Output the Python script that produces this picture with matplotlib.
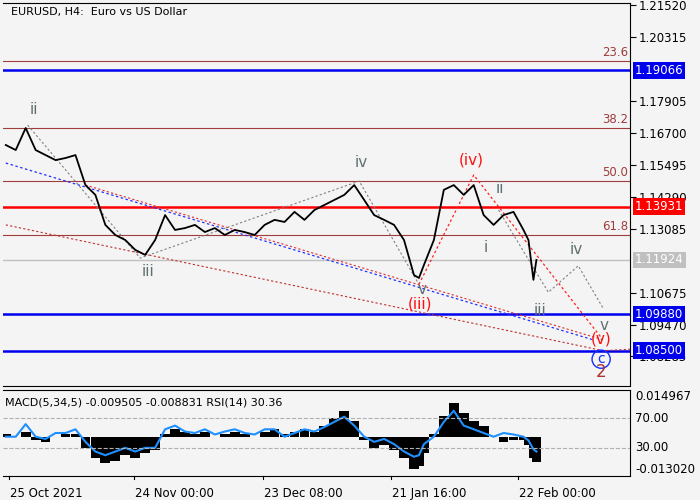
import matplotlib
matplotlib.use("Agg")
import matplotlib.pyplot as plt
import numpy as np

# bar positions (H4 bars) and approximate closes
bars = [0, 10, 20, 30, 40, 50, 60, 70, 80, 90, 100, 110, 120, 130, 140, 150, 160, 170, 180, 190,
        200, 210, 220, 230, 240, 250, 260, 270, 280, 290, 300, 310, 320, 330, 340, 350, 360, 370, 380, 390,
        400, 410, 415, 420, 430, 440, 450, 460, 470, 480, 490, 500, 510, 520, 525, 530, 533]
close = [1.1625, 1.1606, 1.1689, 1.1606, 1.1587, 1.1568, 1.1576, 1.1587, 1.1474, 1.1437,
         1.1324, 1.1286, 1.1267, 1.1230, 1.1211, 1.1267, 1.1361, 1.1305, 1.1312, 1.1324,
         1.1297, 1.1312, 1.1286, 1.1305, 1.1297, 1.1286, 1.1324, 1.1343, 1.1335, 1.1373,
         1.1343, 1.1380, 1.1399, 1.1418, 1.1437, 1.1474, 1.1418, 1.1361, 1.1343, 1.1324,
         1.1267, 1.1135, 1.1124, 1.1173, 1.1267, 1.1456, 1.1474, 1.1437, 1.1474, 1.1361,
         1.1324, 1.1361, 1.1373, 1.1305, 1.1267, 1.1117, 1.1192]
rsi = [45, 45, 62, 45, 42, 50, 50, 55, 38, 25, 20, 25, 30, 25, 30, 30, 55, 60, 52, 50,
       55, 48, 52, 55, 50, 48, 55, 55, 45, 50, 55, 52, 58, 65, 72, 60, 45, 38, 42, 35,
       25, 18, 20, 35, 45, 65, 80, 60, 55, 50, 45, 50, 48, 45, 40, 28, 25]
macd = [0.001, 0.0, 0.002, -0.001, -0.002, 0.0, 0.001, 0.001, -0.004, -0.008,
        -0.010, -0.009, -0.007, -0.008, -0.006, -0.005, 0.001, 0.003, 0.002, 0.001,
        0.002, 0.000, 0.001, 0.002, 0.001, 0.000, 0.002, 0.003, 0.001, 0.002,
        0.003, 0.002, 0.004, 0.007, 0.010, 0.006, -0.001, -0.004, -0.003, -0.005,
        -0.008, -0.012, -0.011, -0.006, 0.001, 0.008, 0.013, 0.009, 0.006, 0.004,
        0.000, -0.002, -0.001, -0.001, -0.003, -0.008, -0.0095]
date_bars = [3, 129, 258, 387, 515]
date_labels = ["25 Oct 2021", "24 Nov 00:00", "23 Dec 08:00", "21 Jan 16:00", "22 Feb 00:00"]
price_ticks = [1.21520, 1.20315, 1.17905, 1.16700, 1.15495, 1.14290, 1.13085, 1.10675, 1.09470, 1.08285]
fib_levels = [1.1941, 1.1689, 1.1489, 1.1286]
fib_names = ["23.6", "38.2", "50.0", "61.8"]
blue_levels = [1.19066, 1.09880, 1.08500]
red_level = 1.13931
last_price = 1.11924

BG = "#f4f4f4"
fig = plt.figure(figsize=(7, 5), dpi=100, facecolor=BG)
ax = fig.add_axes([0.004, 0.228, 0.896, 0.766], facecolor=BG)
ax2 = fig.add_axes([0.004, 0.048, 0.896, 0.172], facecolor=BG)
for a in (ax, ax2):
    a.set_xlim(-3, 627)
    a.set_xticks([])
    for s in a.spines.values():
        s.set_color("black"); s.set_linewidth(0.8)
    a.spines["left"].set_visible(False)
ax.set_ylim(1.0717, 1.2160)
ax.yaxis.tick_right()
ax.set_yticks(price_ticks)
ax.set_yticklabels([f"{p:.5f}" for p in price_ticks], fontsize=8.5)
ax.tick_params(axis="y", length=4, pad=2)

for lv, nm in zip(fib_levels, fib_names):
    ax.axhline(lv, color="#a03c3c", lw=0.8)
    ax.text(625, lv + 0.0008, nm, color="#a03c3c", fontsize=8.5, ha="right", va="bottom")
for lv in blue_levels:
    ax.axhline(lv, color="#0000ee", lw=1.8)
ax.axhline(red_level, color="#ff0000", lw=1.8)
ax.axhline(last_price, color="#c0c0c0", lw=1)

def tag(y, txt, bg, fg="white"):
    ax.text(1.008, y, txt, transform=ax.get_yaxis_transform(), fontsize=8.5, color=fg,
            va="center", ha="left", bbox=dict(boxstyle="square,pad=0.15", fc=bg, ec="none"))
for lv in blue_levels:
    tag(lv, f"{lv:.5f}", "#0000ee")
tag(red_level, f"{red_level:.5f}", "#ff0000")
tag(last_price, f"{last_price:.5f}", "#c0c0c0")

# trend channel / wave lines
ax.plot([0, 590], [1.1557, 1.0891], color="#2030ff", ls=(0, (2, 2)), lw=0.9)
ax.plot([80, 600], [1.1474, 1.0891], color="#e03030", ls=(0, (2, 2)), lw=0.8)
ax.plot([0, 600, 630], [1.1324, 1.0850, 1.0856], color="#c03030", ls=(0, (2, 2)), lw=0.8)
ax.plot([415, 470, 598], [1.1100, 1.1512, 1.0900], color="#ff2020", ls=(0, (2, 2)), lw=0.9)
ax.plot([22, 135, 355, 415], [1.1700, 1.1199, 1.1489, 1.1100], color="#808080", ls=(0, (2, 2)), lw=0.8)
ax.plot([495, 532, 545, 575, 600], [1.1380, 1.1150, 1.1070, 1.1170, 1.1010], color="#808080", ls=(0, (2, 2)), lw=0.8)

ax.plot(bars, close, color="black", lw=1.3)

wave = "#5f7070"
for x, y, t, c in [(28, 1.1760, "ii", wave), (143, 1.1150, "iii", wave), (357, 1.1560, "iv", wave),
                   (418, 1.1080, "v", wave), (482, 1.1240, "i", wave), (496, 1.1460, "ii", wave),
                   (537, 1.1000, "iii", wave), (573, 1.1230, "iv", wave), (601, 1.0945, "v", wave),
                   (416, 1.1025, "(iii)", "#ff1010"), (468, 1.1570, "(iv)", "#ff1010"),
                   (598, 1.0895, "(v)", "#ff1010")]:
    ax.text(x, y, t, color=c, fontsize=11, ha="center", va="center")
ax.text(598, 1.0818, "c", color="#1030ff", fontsize=10, ha="center", va="center",
        bbox=dict(boxstyle="circle,pad=0.15", fc="none", ec="#1030ff"))
ax.text(598, 1.0768, "2", color="#b03030", fontsize=12, ha="center", va="center")
ax.text(5, 1.2125, "EURUSD, H4:  Euro vs US Dollar", fontsize=8, va="center")

# lower panel: MACD histogram + RSI
ax2.set_ylim(-0.0148, 0.0178)
ax2.bar(bars, macd, width=9.8, color="black", align="center")
axr = ax2.twinx()
axr.set_ylim(-8, 108)
axr.set_xlim(-3, 627)
axr.plot(bars, rsi, color="#1e90ff", lw=1.5)
axr.axhline(70, color="#b0b0b0", ls="--", lw=0.8)
axr.axhline(30, color="#b0b0b0", ls="--", lw=0.8)
axr.set_yticks([])
ax2.yaxis.tick_right()
ax2.set_yticks([])
for s in axr.spines.values():
    s.set_visible(False)
for y, t in [(0.93, "0.014967"), (0.67, "70.00"), (0.33, "30.00"), (0.07, "-0.013020")]:
    ax2.text(1.008, y, t, transform=ax2.transAxes, fontsize=8.5, va="center")
ax2.text(0.004, 0.86, "MACD(5,34,5) -0.009505 -0.008831 RSI(14) 30.36", transform=ax2.transAxes,
         fontsize=8, va="center")
for b, lab in zip(date_bars, date_labels):
    ax2.plot([b, b], [0, -0.04], transform=ax2.get_xaxis_transform(), color="black", lw=0.8, clip_on=False)
    ax2.text(b + 1, -0.2, lab, transform=ax2.get_xaxis_transform(), fontsize=8.5, va="center", ha="left")

fig.savefig("out.png", dpi=100, facecolor=BG)
